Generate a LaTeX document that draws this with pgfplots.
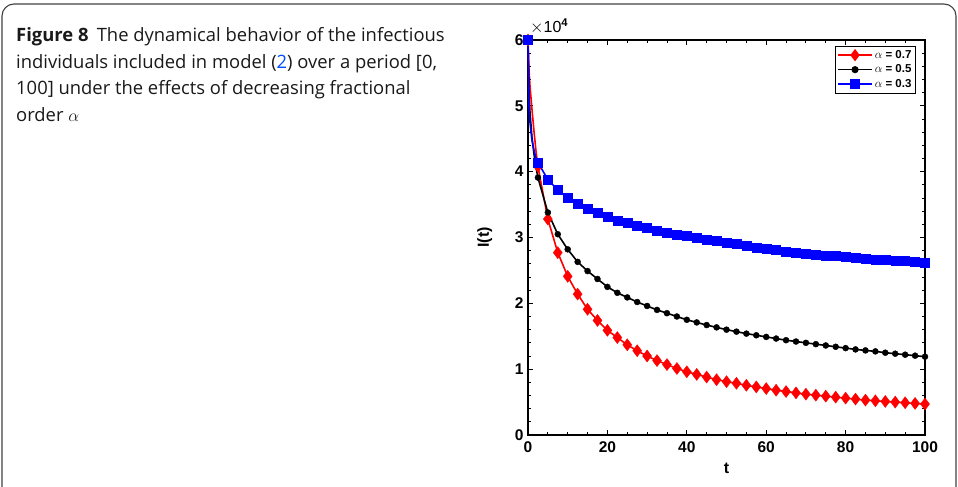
\documentclass[border=0pt]{standalone}
\usepackage{fontspec}
\setmainfont{Liberation Sans}
\newfontfamily\capfont{Open Sans}
\usepackage{pgfplots}
\pgfplotsset{compat=1.18}
\usepackage{pgfplotstable}

% t, I(t) in units of 10^4 ; line data (with extra points near t=0)
\pgfplotstableread{
t I
0 6.00
0.25 5.55
0.5 5.30
1 4.95
1.5 4.62
2 4.32
2.5 4.08
5 3.28
7.5 2.77
10 2.41
12.5 2.14
15 1.91
17.5 1.74
20 1.59
22.5 1.48
25 1.37
27.5 1.28
30 1.20
32.5 1.13
35 1.07
37.5 1.01
40 0.96
42.5 0.92
45 0.88
47.5 0.84
50 0.81
52.5 0.785
55 0.755
57.5 0.73
60 0.705
62.5 0.68
65 0.66
67.5 0.64
70 0.62
72.5 0.605
75 0.59
77.5 0.575
80 0.56
82.5 0.545
85 0.53
87.5 0.52
90 0.51
92.5 0.50
95 0.49
97.5 0.48
100 0.47
}\redtab
\pgfplotstableread{
t I
0 6.00
0.25 5.20
0.5 4.90
1 4.52
1.5 4.27
2 4.07
2.5 3.91
5 3.38
7.5 3.05
10 2.82
12.5 2.63
15 2.49
17.5 2.37
20 2.25
22.5 2.16
25 2.09
27.5 2.02
30 1.96
32.5 1.90
35 1.85
37.5 1.80
40 1.75
42.5 1.71
45 1.67
47.5 1.635
50 1.60
52.5 1.57
55 1.54
57.5 1.515
60 1.49
62.5 1.465
65 1.44
67.5 1.42
70 1.40
72.5 1.38
75 1.36
77.5 1.34
80 1.32
82.5 1.30
85 1.285
87.5 1.27
90 1.25
92.5 1.235
95 1.22
97.5 1.205
100 1.19
}\blacktab
\pgfplotstableread{
t I
0 6.00
0.25 5.00
0.5 4.75
1 4.48
1.5 4.33
2 4.21
2.5 4.14
5 3.88
7.5 3.72
10 3.60
12.5 3.51
15 3.43
17.5 3.37
20 3.32
22.5 3.26
25 3.22
27.5 3.18
30 3.15
32.5 3.10
35 3.07
37.5 3.04
40 3.02
42.5 2.99
45 2.97
47.5 2.945
50 2.92
52.5 2.90
55 2.875
57.5 2.85
60 2.83
62.5 2.81
65 2.79
67.5 2.775
70 2.76
72.5 2.745
75 2.73
77.5 2.72
80 2.71
82.5 2.695
85 2.68
87.5 2.67
90 2.66
92.5 2.65
95 2.64
97.5 2.63
100 2.62
}\bluetab

\begin{document}
\begin{tikzpicture}[x=1pt,y=1pt]
\useasboundingbox (0,0) rectangle (958,487);
\draw[black!75, line width=1.1pt, rounded corners=12pt] (2,-30) rectangle (956,483);
\begin{scope}[every node/.style={anchor=base west, inner sep=0pt, text=black!90, font=\capfont\fontsize{18.4}{20}\selectfont}]
\node at (16,445.3) {\textbf{Figure 8}\hspace{0.45em}The dynamical behavior of the infectious};
\node at (16,418.7) {individuals included in model (\textcolor{blue!70!cyan}{2}) over a period [0,};
\node at (16,392.0) {100] under the effects of decreasing fractional};
\node at (16,365.3) {order $\alpha$};
\end{scope}
\begin{axis}[
  at={(528pt,52pt)}, anchor=south west,
  scale only axis, width=397pt, height=395pt,
  xmin=0, xmax=100, ymin=0, ymax=6,
  xtick={0,20,...,100}, ytick={0,1,...,6},
  minor x tick num=3, minor y tick num=4,
  tick align=inside, major tick length=5pt, minor tick length=3pt,
  axis line style={line width=1.1pt},
  every tick/.style={black, line width=0.9pt},
  /pgf/number format/assume math mode=true,
  tick label style={font=\fontsize{15.5}{15.5}\selectfont\bfseries},
  xticklabel style={yshift=-3pt},
  yticklabel style={xshift=-1pt},
  xlabel={t}, ylabel={I(t)},
  label style={font=\fontsize{16}{16}\selectfont\bfseries},
  xlabel style={at={(rel axis cs:0.5,-0.0962)}, anchor=base},
  ylabel style={at={(rel axis cs:-0.0985,0.5)}, anchor=base},
  legend style={at={(0.977,0.985)}, anchor=north east, draw=black, line width=0.9pt,
    font=\fontsize{11.5}{13}\selectfont\bfseries, inner xsep=2pt, inner ysep=2pt,
    row sep=1pt, cells={anchor=west}},
  legend image code/.code={\draw[mark repeat=2,mark phase=2,#1] plot coordinates {(0pt,0pt)(17pt,0pt)(34pt,0pt)};},
  clip=false,
]
\addlegendimage{red, line width=1.5pt, mark=diamond*, mark size=5pt, mark options={solid}}
\addlegendentry{$\alpha$ = 0.7}
\addlegendimage{black, line width=1.5pt, mark=*, mark size=2.8pt}
\addlegendentry{$\alpha$ = 0.5}
\addlegendimage{blue, line width=1.5pt, mark=square*, mark size=4pt}
\addlegendentry{$\alpha$ = 0.3}
% red
\addplot[red, line width=1.6pt, forget plot] table[x=t,y=I] {\redtab};
\addplot[red, only marks, mark=diamond*, mark size=6pt, forget plot,
  skip coords between index={1}{6}] table[x=t,y=I] {\redtab};
% black
\addplot[black, line width=1.6pt, forget plot] table[x=t,y=I] {\blacktab};
\addplot[black, only marks, mark=*, mark size=3pt, forget plot,
  skip coords between index={1}{6}] table[x=t,y=I] {\blacktab};
% blue
\addplot[blue, line width=1.6pt, forget plot] table[x=t,y=I] {\bluetab};
\addplot[blue, only marks, mark=square*, mark size=4.5pt, forget plot,
  skip coords between index={1}{6}] table[x=t,y=I] {\bluetab};
\node[anchor=base west, inner sep=0pt, font=\fontsize{16}{16}\selectfont] at ([xshift=2pt,yshift=7pt]rel axis cs:0,1) {$\times$10$^{\mathbf{4}}$};
\end{axis}
\end{tikzpicture}
\end{document}
